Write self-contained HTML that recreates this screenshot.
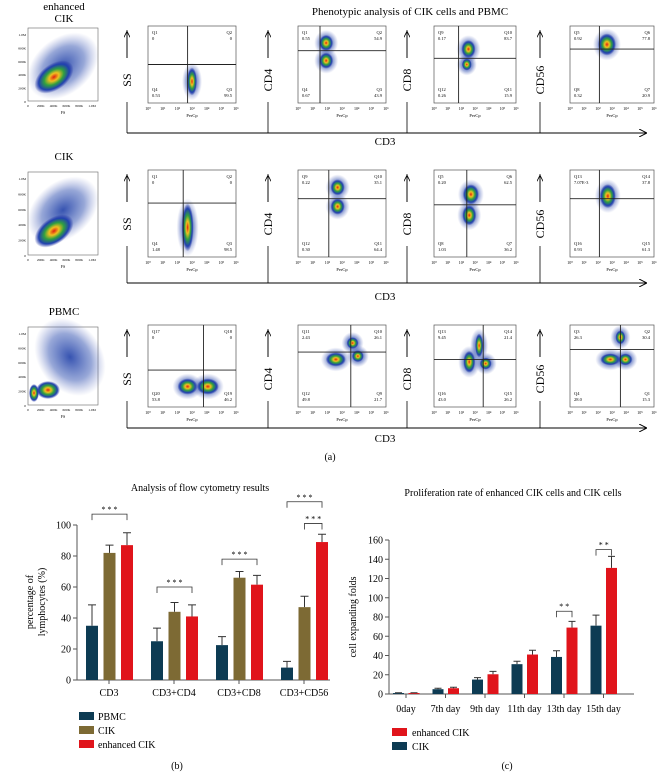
<!DOCTYPE html>
<html><head><meta charset="utf-8">
<style>
body{margin:0;background:#fff;}
svg{display:block;font-family:"Liberation Serif",serif;}
</style></head>
<body>
<svg id="fig" width="660" height="772" viewBox="0 0 660 772">
<defs>
<radialGradient id="blob"><stop offset="0" stop-color="#e02010"/><stop offset="0.25" stop-color="#f0c020"/><stop offset="0.5" stop-color="#30a040"/><stop offset="0.78" stop-color="#2040b0"/><stop offset="1" stop-color="#2030a0" stop-opacity="0"/></radialGradient>
<radialGradient id="cloud"><stop offset="0" stop-color="#2040a8" stop-opacity="0.9"/><stop offset="0.6" stop-color="#3050b0" stop-opacity="0.5"/><stop offset="1" stop-color="#6070c0" stop-opacity="0"/></radialGradient>
<marker id="arr" markerWidth="8" markerHeight="8" refX="7" refY="4" orient="auto"><path d="M0,0 L8,4 L0,8" fill="none" stroke="#000" stroke-width="1"/></marker>
</defs>
<text x="410" y="15" font-size="11" text-anchor="middle">Phenotypic analysis of CIK cells and PBMC</text>
<g id="flow"></g>
<text x="330" y="460" font-size="10" text-anchor="middle">(a)</text>
<g id="chartB"></g>
<g id="chartC"></g>
<text x="177" y="769" font-size="10" text-anchor="middle">(b)</text>
<text x="507" y="769" font-size="10" text-anchor="middle">(c)</text>
</svg>
<script>
const NS="http://www.w3.org/2000/svg";
function mk(p,tag,at,txt){const e=document.createElementNS(NS,tag);for(const k in at)e.setAttribute(k,at[k]);if(txt!==undefined)e.textContent=txt;p.appendChild(e);return e;}

// ---------- Chart (b) data ----------
const bCats=["CD3","CD3+CD4","CD3+CD8","CD3+CD56"];
const bPBMC=[35,25,22.5,8];
const bPBMCerr=[13.5,8.5,5.5,4];
const bCIK=[82,44,66,47];
const bCIKerr=[5,6,4,7];
const bEnh=[87,41,61.5,89];
const bEnhErr=[8,7.5,6,5];
const bTicks=[0,20,40,60,80,100];
// ---------- Chart (c) data ----------
const cCats=["0day","7th day","9th day","11th day","13th day","15th day"];
const cCIK=[1,5,15,31,38.5,71];
const cCIKerr=[0.3,1,2,3,6.5,11];
const cEnh=[1,6,20.5,41,69,131];
const cEnhErr=[0.3,1,3,4.5,6.5,12];
const cTicks=[0,20,40,60,80,100,120,140,160];

const NAVY="#0d3b53",OLIVE="#7d6a34",RED="#e0141b";

const flow=document.getElementById('flow');
const rows=[
 {label:["enhanced","CIK"],ly:10,top:28,bot:101,brk:133,cd3:145,
  panels:[{v:.45,h:.5,q:[["Q1","0"],["Q2","0"],["Q4","0.53"],["Q3","99.5"]],b:[[.5,.72,5,14]]},
          {v:.25,h:.32,q:[["Q1","0.55"],["Q2","54.9"],["Q4","0.67"],["Q3","43.9"]],b:[[.32,.22,7,8],[.32,.45,7,8]]},
          {v:.3,h:.42,q:[["Q9","0.17"],["Q10","83.7"],["Q12","0.26"],["Q11","15.9"]],b:[[.42,.3,7,9],[.4,.5,5,6]]},
          {v:.35,h:.3,q:[["Q5","0.92"],["Q6","77.8"],["Q8","0.32"],["Q7","20.9"]],b:[[.44,.24,9,11]]}]},
 {label:["CIK"],ly:160,top:172,bot:255,brk:283,cd3:300,
  panels:[{v:.4,h:.38,q:[["Q1","0"],["Q2","0"],["Q4","1.48"],["Q3","98.5"]],b:[[.45,.66,6,24]]},
          {v:.35,h:.33,q:[["Q9","0.22"],["Q10","35.1"],["Q12","0.30"],["Q11","64.4"]],b:[[.45,.2,7,8],[.45,.42,7,8]]},
          {v:.4,h:.4,q:[["Q5","0.20"],["Q6","62.5"],["Q8","1.03"],["Q7","36.2"]],b:[[.45,.28,8,10],[.43,.52,7,10]]},
          {v:.35,h:.33,q:[["Q13","7.07E-3"],["Q14","37.8"],["Q16","0.93"],["Q15","61.3"]],b:[[.45,.3,8,12]]}]},
 {label:["PBMC"],ly:315,top:327,bot:405,brk:428,cd3:442,
  panels:[{v:.63,h:.55,q:[["Q17","0"],["Q18","0"],["Q20","53.8"],["Q19","46.2"]],b:[[.45,.75,10,8],[.68,.75,11,8]]},
          {v:.6,h:.33,q:[["Q11","2.43"],["Q10","26.1"],["Q12","49.8"],["Q9","21.7"]],b:[[.43,.42,10,7],[.62,.22,6,6],[.68,.38,6,6]]},
          {v:.6,h:.42,q:[["Q13","9.45"],["Q14","21.4"],["Q16","43.0"],["Q15","26.2"]],b:[[.43,.45,6,11],[.63,.47,6,6],[.55,.25,4,12]]},
          {v:.6,h:.3,q:[["Q3","26.3"],["Q2","30.4"],["Q4","28.0"],["Q1","15.3"]],b:[[.48,.42,10,6],[.66,.42,7,6],[.6,.15,5,7]]}]}
];
const pxs=[[148,236],[298,386],[434,516],[570,654]];
const arrX=[127,268,407,540];
const names=["SS","CD4","CD8","CD56"];
rows.forEach((r,ri)=>{
  const g=mk(flow,'g',{});
  
  r.label.forEach((t,i)=>mk(g,'text',{x:64,y:r.ly+i*12,'font-size':11,'text-anchor':'middle'},t));
  const L=28,R=98,T=r.top,B=r.bot;
  mk(g,'rect',{x:L,y:T,width:R-L,height:B-T,fill:'#fff',stroke:'#666','stroke-width':0.6});
  if(ri==2){
    mk(g,'ellipse',{cx:L+42,cy:T+30,rx:32,ry:42,fill:'url(#cloud)',transform:`rotate(-35 ${L+42} ${T+30})`});
    mk(g,'ellipse',{cx:L+6,cy:B-12,rx:5,ry:9,fill:'url(#blob)'});mk(g,'ellipse',{cx:L+20,cy:B-15,rx:12,ry:9,fill:'url(#blob)'});
  } else {
    mk(g,'ellipse',{cx:L+35,cy:T+38,rx:40,ry:28,fill:'url(#cloud)',transform:`rotate(-40 ${L+35} ${T+38})`});
    mk(g,'ellipse',{cx:L+26,cy:B-24,rx:22,ry:13,fill:'url(#blob)',transform:`rotate(-35 ${L+26} ${B-24})`});
  }
  ["0","200K","400K","600K","800K","1.0M"].forEach((t,i)=>{const y=B-(B-T-6)*i/5;mk(g,'text',{x:L-2,y:y+2,'font-size':3.5,'text-anchor':'end'},t);mk(g,'text',{x:L+(R-L-6)*i/5,y:B+6,'font-size':3.5,'text-anchor':'middle'},t);});
  mk(g,'text',{x:(L+R)/2,y:B+13,'font-size':4,'text-anchor':'middle'},'FS');
  mk(g,'path',{d:`M127 ${r.brk} H646`,stroke:'#000','stroke-width':1,fill:'none','marker-end':'url(#arr)'});
  mk(g,'text',{x:385,y:r.cd3,'font-size':11,'text-anchor':'middle'},'CD3');
  r.panels.forEach((p,pi)=>{
    const ax=arrX[pi], [x0,x1]=pxs[pi];
    mk(g,'line',{x1:ax,y1:r.brk,x2:ax,y2:r.top+2,stroke:'#000','stroke-width':0.8});
    mk(g,'path',{d:`M${ax} ${r.top+32} V${r.top+4}`,stroke:'#000','stroke-width':0.8,'marker-end':'url(#arr)'});
    mk(g,'rect',{x:ax-8,y:r.top+30,width:16,height:44,fill:'#fff'});
    const ny=r.top+52;
    mk(g,'text',{x:ax+4,y:ny,'font-size':12,'text-anchor':'middle',transform:`rotate(-90 ${ax+4} ${ny})`},names[pi]);
    const y0=r.top-2,y1=r.bot+2;
    mk(g,'rect',{x:x0,y:y0,width:x1-x0,height:y1-y0,fill:'#fff',stroke:'#555','stroke-width':0.7});
    const vx=x0+(x1-x0)*p.v, hy=y0+(y1-y0)*p.h;
    p.b.forEach(b=>{const bx=x0+(x1-x0)*b[0],by=y0+(y1-y0)*b[1];mk(g,'ellipse',{cx:bx,cy:by,rx:b[2]+5,ry:b[3]+5,fill:'url(#cloud)'});mk(g,'ellipse',{cx:bx,cy:by,rx:b[2],ry:b[3],fill:'url(#blob)'});});
    mk(g,'line',{x1:vx,y1:y0,x2:vx,y2:y1,stroke:'#222','stroke-width':0.9});
    mk(g,'line',{x1:x0,y1:hy,x2:x1,y2:hy,stroke:'#222','stroke-width':0.9});
    const qs=[[x0+4,y0+8,'start'],[x1-4,y0+8,'end'],[x0+4,y1-12,'start'],[x1-4,y1-12,'end']];
    p.q.forEach((q,i)=>{mk(g,'text',{x:qs[i][0],y:qs[i][1],'font-size':4.5,'text-anchor':qs[i][2]},q[0]);mk(g,'text',{x:qs[i][0],y:qs[i][1]+6,'font-size':4.5,'text-anchor':qs[i][2]},q[1]);});
    for(let i=0;i<7;i++)mk(g,'text',{x:x0+(x1-x0)*i/6,y:y1+7,'font-size':4,'text-anchor':'middle'},'10'+['⁰','¹','²','³','⁴','⁵','⁶'][i]);
    mk(g,'text',{x:(x0+x1)/2,y:y1+14,'font-size':4.5,'text-anchor':'middle'},'PerCp');
  });
});

// ---------- chart b ----------
(function(){
  const g=document.getElementById('chartB');
  const X0=77,X1=330,Y0=680,Ytop=525;
  const y=v=>Y0-(v/100)*(Y0-Ytop);
  const groupX=i=>86+i*65;
  mk(g,'text',{x:200,y:491,'font-size':10,'text-anchor':'middle'},'Analysis of flow cytometry results');
  mk(g,'line',{x1:X0,y1:Ytop,x2:X0,y2:Y0,stroke:'#555','stroke-width':1});
  mk(g,'line',{x1:X0,y1:Y0,x2:X1,y2:Y0,stroke:'#555','stroke-width':1});
  bTicks.forEach(t=>{mk(g,'line',{x1:X0-4,y1:y(t),x2:X0,y2:y(t),stroke:'#555'});const tx=mk(g,'text',{x:X0-6,y:y(t)+3.5,'font-size':10,'text-anchor':'end'},t);});
  mk(g,'text',{x:33,y:602,'font-size':10,'text-anchor':'middle',transform:'rotate(-90 33 602)'},'percentage of');
  mk(g,'text',{x:45,y:602,'font-size':10,'text-anchor':'middle',transform:'rotate(-90 45 602)'},'lymphocytes (%)');
  const series=[[bPBMC,bPBMCerr,NAVY],[bCIK,bCIKerr,OLIVE],[bEnh,bEnhErr,RED]];
  bCats.forEach((c,i)=>{
    series.forEach((s,si)=>{
      const bx=groupX(i)+si*17.5, v=s[0][i], e=s[1][i];
      const r=mk(g,'rect',{x:bx,y:y(v),width:12,height:Y0-y(v),fill:s[2]});
      
      
      mk(g,'path',{d:`M${bx+6} ${y(v)} V${y(v+e)} M${bx+2} ${y(v+e)} H${bx+10}`,stroke:'#333','stroke-width':1,fill:'none'});
    });
    mk(g,'line',{x1:groupX(i)+23,y1:Y0,x2:groupX(i)+23,y2:Y0+4,stroke:'#555'});
    const t=mk(g,'text',{x:groupX(i)+23,y:696,'font-size':10,'text-anchor':'middle'},c);
    
  });
  const br=(xa,xb,top)=>{mk(g,'path',{d:`M${xa} ${top+6} V${top} H${xb} V${top+6}`,stroke:'#333','stroke-width':0.8,fill:'none'});mk(g,'text',{x:(xa+xb)/2,y:top-2,'font-size':8,'text-anchor':'middle'},'* * *');};
  br(groupX(0)+6,groupX(0)+41,y(107));
  br(groupX(1)+6,groupX(1)+41,y(60));
  br(groupX(2)+6,groupX(2)+41,y(78));
  br(groupX(3)+6,groupX(3)+41,y(115));
  br(groupX(3)+23.5,groupX(3)+41,y(101));
  [["PBMC",NAVY],["CIK",OLIVE],["enhanced CIK",RED]].forEach((l,i)=>{
    const yy=712+i*14;
    const rr=mk(g,'rect',{x:79,y:yy,width:15,height:8,fill:l[1]});
    
    mk(g,'text',{x:98,y:yy+8,'font-size':10},l[0]);
  });
})();

// ---------- chart c ----------
(function(){
  const g=document.getElementById('chartC');
  const X0=389,X1=634,Y0=694,Ytop=540;
  const y=v=>Y0-(v/160)*(Y0-Ytop);
  const gx=i=>393+i*39.5;
  mk(g,'text',{x:513,y:496,'font-size':10,'text-anchor':'middle'},'Proliferation rate of enhanced CIK cells and CIK cells');
  mk(g,'line',{x1:X0,y1:Ytop,x2:X0,y2:Y0,stroke:'#555'});
  mk(g,'line',{x1:X0,y1:Y0,x2:X1,y2:Y0,stroke:'#555'});
  cTicks.forEach(t=>{mk(g,'line',{x1:X0-4,y1:y(t),x2:X0,y2:y(t),stroke:'#555'});const tx=mk(g,'text',{x:X0-6,y:y(t)+3.5,'font-size':10,'text-anchor':'end'},t);});
  mk(g,'text',{x:356,y:617,'font-size':10,'text-anchor':'middle',transform:'rotate(-90 356 617)'},'cell expanding folds');
  const series=[[cCIK,cCIKerr,NAVY],[cEnh,cEnhErr,RED]];
  cCats.forEach((c,i)=>{
    series.forEach((s,si)=>{
      const bx=gx(i)+si*15.5, v=s[0][i], e=s[1][i];
      const r=mk(g,'rect',{x:bx,y:y(v),width:11,height:Y0-y(v),fill:s[2]});
      
      
      mk(g,'path',{d:`M${bx+5.5} ${y(v)} V${y(v+e)} M${bx+2} ${y(v+e)} H${bx+9}`,stroke:'#333','stroke-width':1,fill:'none'});
    });
    mk(g,'line',{x1:gx(i)+13,y1:Y0,x2:gx(i)+13,y2:Y0+4,stroke:'#555'});
    const t=mk(g,'text',{x:gx(i)+13,y:712,'font-size':10,'text-anchor':'middle'},c);
    
  });
  const br=(xa,xb,top)=>{mk(g,'path',{d:`M${xa} ${top+6} V${top} H${xb} V${top+6}`,stroke:'#333','stroke-width':0.8,fill:'none'});mk(g,'text',{x:(xa+xb)/2,y:top-2,'font-size':8,'text-anchor':'middle'},'* *');};
  br(gx(4)+5.5,gx(4)+21,y(86));
  br(gx(5)+5.5,gx(5)+21,y(150));
  [["enhanced CIK",RED],["CIK",NAVY]].forEach((l,i)=>{
    const yy=728+i*14;
    const rr=mk(g,'rect',{x:392,y:yy,width:15,height:8,fill:l[1]});
    
    mk(g,'text',{x:412,y:yy+8,'font-size':10},l[0]);
  });
})();
</script>
</body></html>
